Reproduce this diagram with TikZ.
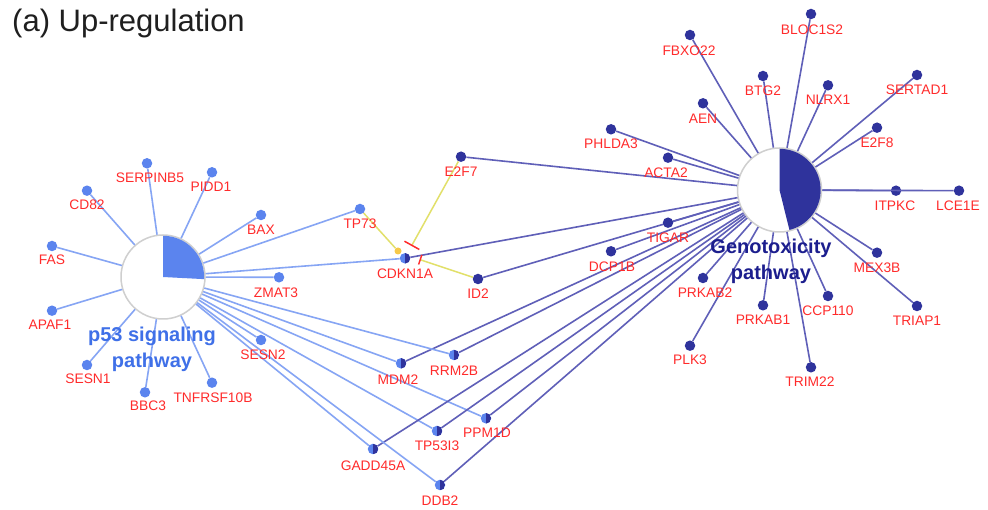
\documentclass[tikz,border=0pt]{standalone}
\usepackage{fontspec}
\setmainfont{Liberation Sans}
\usetikzlibrary{arrows.meta}
\definecolor{lblue}{HTML}{5B84EE}
\definecolor{dblue}{HTML}{2F339C}
\definecolor{ledgec}{HTML}{86A5F4}
\definecolor{dedgec}{HTML}{5F5FB8}
\definecolor{genred}{HTML}{FF2B2B}
\definecolor{yel}{HTML}{E2E06A}
\definecolor{ydot}{HTML}{F6C94A}
\definecolor{hubgray}{HTML}{CFCFCF}
\definecolor{p53txt}{HTML}{3F70E8}
\definecolor{genotxt}{HTML}{1C1E8E}
\tikzset{
  ldot/.style={circle, fill=lblue, minimum size=10.5pt, inner sep=0pt},
  ddot/.style={circle, fill=dblue, minimum size=10.5pt, inner sep=0pt},
  hdot/.style={ldot, path picture={\fill[dblue] (path picture bounding box.north) rectangle (path picture bounding box.south east);}},
  hub/.style={circle, draw=hubgray, line width=1.5pt, fill=white, minimum size=84pt, inner sep=0pt},
  ledge/.style={draw=ledgec, line width=1.6pt},
  dedge/.style={draw=dedgec, line width=1.6pt},
  yedge/.style={draw=yel, line width=1.5pt},
  glabel/.style={text=genred, font=\fontsize{13.8}{15}\selectfont, inner sep=0pt},
  hublabel/.style={font=\fontsize{20}{26}\selectfont\bfseries, align=center, inner sep=0pt},
}
\begin{document}
\begin{tikzpicture}[x=1pt,y=1pt]
\useasboundingbox (0,0) rectangle (988,510);
\fill[white] (0,0) rectangle (988,510);
\node[anchor=base west, inner sep=0pt, text=black!88, font=\fontsize{31}{34}\selectfont] (title) at (12,478.3) {(a) Up-regulation};

% hubs
\node[hub] (p53) at (163,233) {};
\fill[lblue] (p53.center) -- ++(-3:41.2) arc[start angle=-3, end angle=90, radius=41.2] -- cycle;
\node[hub] (geno) at (779.5,320) {};
\fill[dblue] (geno.center) -- ++(-76:41.2) arc[start angle=-76, end angle=90, radius=41.2] -- cycle;

% p53-only genes
\foreach \n/\x/\y/\lx/\ly in {
  SERPINB5/147/346.7/150/332, PIDD1/212/337.7/211/323, CD82/87/319.3/87/305,
  BAX/261/295/261/280, FAS/52/264/52/250, ZMAT3/279/232.7/276/217.7,
  APAF1/52/199.3/50/185, SESN2/261/170/263/155, SESN1/87/145/88/131,
  BBC3/145/117.7/148/104, TNFRSF10B/212/127.3/213/112.7, TP73/360/301/360/286.7}{
  \node[ldot] (\n) at (\x,\y) {};
  \draw[ledge] (p53) -- (\n);
}

% shared genes
\foreach \n/\x/\y/\lx/\ly in {
  CDKN1A/405/251.7/405/236.7, MDM2/401/146.7/398/130.7, RRM2B/454/155/454/139.3,
  PPM1D/486/91.7/487/77.3, TP53I3/437/79/437/64, GADD45A/373/61/373/44.3,
  DDB2/440/25/440/9}{
  \node[hdot] (\n) at (\x,\y) {};
  \draw[ledge] (p53) -- (\n);
  \draw[dedge] (geno) -- (\n);
}

% genotoxicity-only genes
\foreach \n/\x/\y/\lx/\ly in {
  E2F7/461/353.3/461/338.3, ID2/478/231/478/216.7,
  BLOC1S2/811/496/812/480.7, FBXO22/690/475/689/459.3, BTG2/763/434/763/419.3,
  NLRX1/828/424.7/828/410, SERTAD1/917/435/917/420, AEN/703/406.7/703/391.7,
  PHLDA3/611/380.7/611/366, E2F8/877/382.3/877/367.3, ACTA2/668/352.3/666/337.3,
  ITPKC/896/319.3/895/304, LCE1E/959/319.3/958/304, TIGAR/668/287.3/668/272.3,
  DCP1B/611/258.7/612/243.3, MEX3B/877/257.3/877/242.3, PRKAB2/703/232/705/217.3,
  CCP110/828/214/828/199.3, TRIAP1/917/204/917/189.3, PRKAB1/763/204.7/763/190.7,
  PLK3/690/164.3/690/150, TRIM22/811/142.7/810/128.3}{
  \node[ddot] (\n) at (\x,\y) {};
  \draw[dedge] (geno) -- (\n);
}

% gene interactions
\node[circle, fill=ydot, minimum size=7pt, inner sep=0pt] (ydotn) at (398,259) {};
\draw[yedge] (TP73) -- (ydotn);
\coordinate (e2f7end) at (411.5,264);
\coordinate (id2end) at (419.5,250.5);
\draw[yedge, -{Bar[width=17pt, line width=1.5pt, color=genred]}] (E2F7) -- (e2f7end);
\draw[yedge, -{Bar[width=10pt, line width=1.5pt, color=genred]}] (ID2) -- (id2end);

% gene labels
\foreach \n/\lx/\ly in {
  SERPINB5/150/332, PIDD1/211/323, CD82/87/305, BAX/261/280, FAS/52/250,
  ZMAT3/276/217.7, APAF1/50/185, SESN2/263/155, SESN1/88/131, BBC3/148/104,
  TNFRSF10B/213/112.7, TP73/360/286.7,
  CDKN1A/405/236.7, MDM2/398/130.7, RRM2B/454/139.3, PPM1D/487/77.3,
  TP53I3/437/64, GADD45A/373/44.3, DDB2/440/9,
  E2F7/461/338.3, ID2/478/216.7, BLOC1S2/812/480.7, FBXO22/689/459.3,
  BTG2/763/419.3, NLRX1/828/410, SERTAD1/917/420, AEN/703/391.7,
  PHLDA3/611/366, E2F8/877/367.3, ACTA2/666/337.3, ITPKC/895/304,
  LCE1E/958/304, TIGAR/668/272.3, DCP1B/612/243.3, MEX3B/877/242.3,
  PRKAB2/705/217.3, CCP110/828/199.3, TRIAP1/917/189.3, PRKAB1/763/190.7,
  PLK3/690/150, TRIM22/810/128.3}{
  \node[glabel] (\n-l) at (\lx,\ly) {\n};
}

% hub labels
\node[hublabel, text=p53txt] (p53-l) at (152,160.5) {p53 signaling\\pathway};
\node[hublabel, text=genotxt] (geno-l) at (771,248.3) {Genotoxicity\\pathway};
\end{tikzpicture}
\end{document}
